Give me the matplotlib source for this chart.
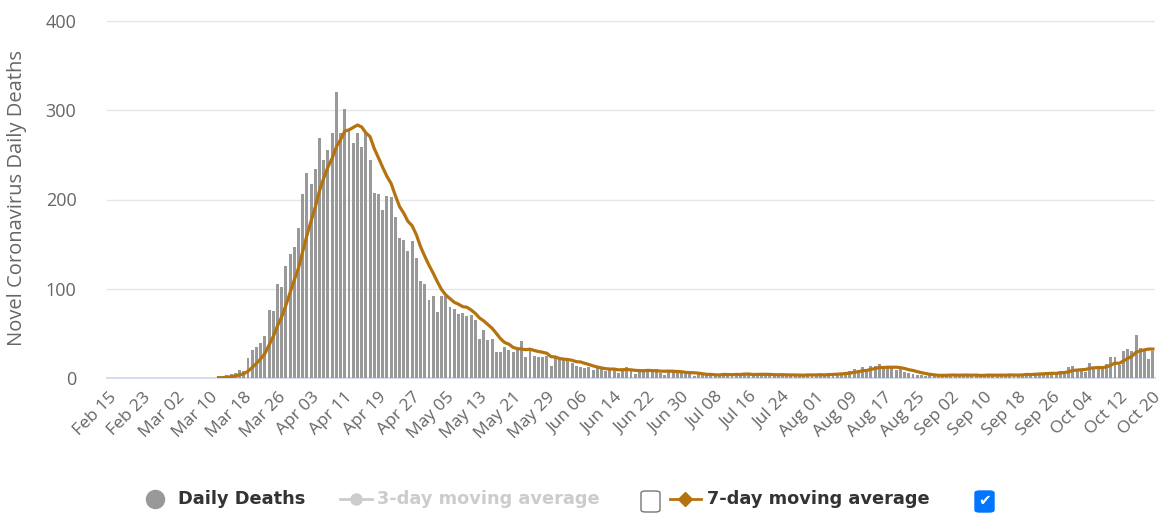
import numpy as np
import pandas as pd
import matplotlib
matplotlib.use("Agg")
import matplotlib.pyplot as plt
from matplotlib.lines import Line2D
from matplotlib.patches import FancyBboxPatch

# daily deaths, one value per day from Feb 15 to Oct 20
daily_deaths = [
    0, 0, 0, 0, 0, 0, 0, 0, 0, 0,
    0, 0, 0, 0, 0, 0, 0, 0, 0, 0,
    0, 0, 0, 0, 0, 0, 2, 1, 3, 4,
    6, 9, 8, 22, 31, 35, 39, 47, 76, 75,
    105, 102, 126, 139, 147, 168, 206, 230, 217, 234,
    269, 244, 255, 274, 320, 274, 301, 278, 263, 274,
    259, 274, 244, 207, 206, 188, 204, 203, 180, 157,
    155, 142, 153, 134, 109, 105, 87, 92, 74, 92,
    92, 80, 77, 72, 73, 69, 71, 65, 44, 54,
    43, 44, 29, 29, 35, 31, 29, 33, 41, 24,
    33, 25, 23, 23, 25, 14, 22, 21, 20, 20,
    17, 14, 12, 11, 12, 9, 11, 10, 8, 9,
    11, 6, 10, 12, 8, 4, 7, 10, 9, 8,
    10, 6, 3, 8, 9, 7, 6, 5, 4, 2,
    5, 4, 3, 5, 2, 3, 6, 4, 3, 5,
    4, 6, 3, 2, 5, 4, 5, 3, 4, 2,
    3, 4, 3, 5, 2, 3, 4, 3, 4, 5,
    3, 5, 4, 6, 5, 7, 8, 10, 9, 12,
    8, 14, 13, 16, 10, 12, 11, 9, 10, 7,
    6, 4, 3, 3, 2, 4, 3, 2, 4, 3,
    5, 2, 3, 4, 2, 3, 4, 2, 3, 5,
    3, 2, 4, 3, 4, 2, 5, 4, 6, 3,
    5, 6, 4, 7, 6, 5, 8, 7, 12, 14,
    10, 9, 7, 17, 11, 14, 13, 16, 23, 23,
    15, 30, 33, 30, 48, 34, 31, 21, 30,
]

tick_labels = ["Feb 15", "Feb 23", "Mar 02", "Mar 10", "Mar 18", "Mar 26",
               "Apr 03", "Apr 11", "Apr 19", "Apr 27", "May 05", "May 13",
               "May 21", "May 29", "Jun 06", "Jun 14", "Jun 22", "Jun 30",
               "Jul 08", "Jul 16", "Jul 24", "Aug 01", "Aug 09", "Aug 17",
               "Aug 25", "Sep 02", "Sep 10", "Sep 18", "Sep 26", "Oct 04",
               "Oct 12", "Oct 20"]
tick_step = 8

bar_color = "#999999"
line_color = "#b5730f"
text_color = "#666666"

plt.rcParams["font.family"] = ["Open Sans", "DejaVu Sans"]

n = len(daily_deaths)
x = np.arange(n)

# 7-day trailing average, starts with the first reported death
s = pd.Series(daily_deaths, dtype=float)
avg7 = s.rolling(7, min_periods=1).mean()
first = int(np.argmax(s.values > 0))
avg7[:first] = np.nan

W, H = 1162, 516
fig = plt.figure(figsize=(W / 100, H / 100), dpi=100)
ax_left, ax_right = 107, 1155
ax_zero = 378
px_per_unit = (378 - 21) / 400
ymax = 404
ax_top = ax_zero - ymax * px_per_unit
ax = fig.add_axes([ax_left / W, 1 - ax_zero / H, (ax_right - ax_left) / W,
                   (ax_zero - ax_top) / H])

ax.bar(x, daily_deaths, width=0.7, color=bar_color, zorder=2)
ax.plot(x, avg7, color=line_color, lw=2.3, zorder=3, solid_joinstyle="round")

ax.set_xlim(-0.5, n - 0.5)
ax.set_ylim(0, ymax)
ax.set_yticks([0, 100, 200, 300, 400])
ax.yaxis.grid(True, color="#e6e6e6", lw=1)
ax.set_axisbelow(True)
ax.axhline(0, color="#ccd6eb", lw=1.2, zorder=1, clip_on=False)
for sp in ax.spines.values():
    sp.set_visible(False)

ax.set_xticks(np.arange(0, n, tick_step))
ax.set_xticklabels(tick_labels, rotation=45, ha="right",
                   rotation_mode="anchor", fontsize=12.5, color=text_color)
ax.tick_params(axis="x", length=0, pad=8)
ax.tick_params(axis="y", length=0, pad=22, labelsize=13, labelcolor=text_color)
ax.set_ylabel("Novel Coronavirus Daily Deaths", fontsize=14.5, color=text_color)
ax.yaxis.set_label_coords(-0.076, 0.5)

# legend drawn by hand, with the checkboxes
ly = 1 - 499 / H
fig.add_artist(Line2D([155 / W], [ly], marker="o", markersize=13,
                      color=bar_color, transform=fig.transFigure))
fig.text(178 / W, ly, "Daily Deaths", fontsize=12.8, fontweight="bold",
         color="#333333", va="center", family="DejaVu Sans")

fig.add_artist(Line2D([340 / W, 372 / W], [ly, ly], lw=2, color="#cccccc",
                      transform=fig.transFigure))
fig.add_artist(Line2D([356 / W], [ly], marker="o", markersize=8,
                      color="#cccccc", transform=fig.transFigure))
fig.text(377 / W, ly, "3-day moving average", fontsize=12.8, fontweight="bold",
         color="#cccccc", va="center", family="DejaVu Sans")

fig.add_artist(FancyBboxPatch((641 / W, 1 - 512 / H), 19 / W, 21 / H,
                              boxstyle="round,pad=0,rounding_size=0.004",
                              fc="white", ec="#767676", lw=1,
                              transform=fig.transFigure))

fig.add_artist(Line2D([670 / W, 701 / W], [ly, ly], lw=2, color=line_color,
                      transform=fig.transFigure))
fig.add_artist(Line2D([685 / W], [ly], marker="D", markersize=7,
                      color=line_color, transform=fig.transFigure))
fig.text(707 / W, ly, "7-day moving average", fontsize=12.8, fontweight="bold",
         color="#333333", va="center", family="DejaVu Sans")

fig.add_artist(FancyBboxPatch((975 / W, 1 - 512 / H), 19 / W, 21 / H,
                              boxstyle="round,pad=0,rounding_size=0.004",
                              fc="#0075ff", ec="#0075ff", lw=1,
                              transform=fig.transFigure))
fig.text(984.5 / W, 1 - 501 / H, "\u2714", fontsize=11, color="white",
         ha="center", va="center", family="DejaVu Sans")

fig.savefig("out.png", dpi=100)
